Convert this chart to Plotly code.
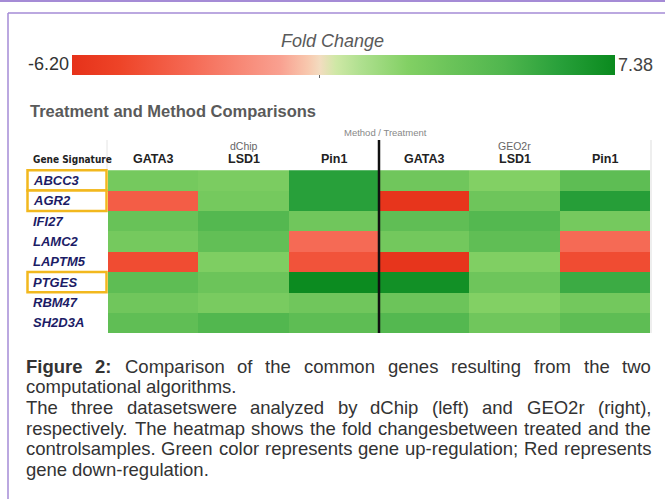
import plotly.graph_objects as go

# ---------------- data ----------------
genes = ["ABCC3", "AGR2", "IFI27", "LAMC2", "LAPTM5", "PTGES", "RBM47", "SH2D3A"]
highlighted = ["ABCC3", "AGR2", "PTGES"]
methods = ["dChip", "GEO2r"]
treatments = ["GATA3", "LSD1", "Pin1", "GATA3", "LSD1", "Pin1"]
fold_change = [
    [2.8, 2.5, 6.0, 3.0, 2.2, 3.9],     # ABCC3
    [-3.8, 2.8, 6.0, -6.0, 3.1, 6.1],   # AGR2
    [3.4, 4.4, 3.0, 3.8, 4.4, 2.8],     # IFI27
    [2.8, 3.7, -3.2, 2.9, 3.8, -3.2],   # LAMC2
    [-4.6, 2.4, -4.3, -6.0, 2.3, -4.6], # LAPTM5
    [3.9, 3.2, 7.3, 7.0, 3.1, 5.3],     # PTGES
    [3.0, 2.6, 3.0, 3.2, 2.2, 2.9],     # RBM47
    [3.8, 4.5, 3.9, 4.4, 3.0, 3.9],     # SH2D3A
]
fc_min, fc_max = -6.20, 7.38
scale_values = [-6.20, -5.0, -3.2, -1.0, -0.3, 0.0, 0.4, 1.0, 2.2, 3.2, 4.6, 6.0, 7.38]
scale_colors = ["#e6321a", "#ee4428", "#f56a55", "#f9a090", "#f8c8ae", "#f3dcc0",
                "#cfe8a6", "#b0e090", "#82d064", "#6cc45a", "#50b64e", "#28a03a", "#0a8a1e"]

caption_lines = [
    ([("Figure", True), ("2:", True), ("Comparison", False), ("of", False), ("the", False),
      ("common", False), ("genes", False), ("resulting", False), ("from", False), ("the", False),
      ("two", False)], True),
    ([(w, False) for w in "computational algorithms.".split()], False),
    ([(w, False) for w in "The three datasetswere analyzed by dChip (left) and GEO2r (right),".split()], True),
    ([(w, False) for w in "respectively. The heatmap shows the fold changesbetween treated and the".split()], True),
    ([(w, False) for w in "controlsamples. Green color represents gene up-regulation; Red represents".split()], True),
    ([(w, False) for w in "gene down-regulation.".split()], False),
]

# ---------------- helpers ----------------
W, H = 665, 499
def px(x):
    return x / W
def py(y):
    return 1 - y / H

REG = dict(zip("abcdefghijklmnopqrstuvwxyz",
               [556, 556, 500, 556, 556, 278, 556, 556, 222, 222, 500, 222, 833, 556, 556, 556,
                556, 333, 500, 278, 556, 500, 722, 500, 500, 500]))
REG.update(dict(zip("ABCDEFGHIJKLMNOPQRSTUVWXYZ",
                    [667, 667, 722, 722, 667, 611, 778, 722, 278, 500, 667, 556, 833, 722, 778,
                     667, 778, 722, 667, 611, 722, 667, 944, 667, 667, 611])))
REG.update({d: 556 for d in "0123456789"})
REG.update({".": 278, ",": 278, ":": 278, ";": 278, "(": 333, ")": 333, "-": 333, " ": 278})
BOLD = dict(zip("abcdefghijklmnopqrstuvwxyz",
                [556, 611, 556, 611, 556, 333, 611, 611, 278, 278, 556, 278, 889, 611, 611, 611,
                 611, 389, 556, 333, 611, 556, 778, 556, 556, 500]))
BOLD.update({"F": 611, ":": 333, " ": 278})
BOLD.update({d: 556 for d in "0123456789"})

def text_w(s, bold, size):
    t = BOLD if bold else REG
    return sum(t.get(c, 556) for c in s) / 1000.0 * size

# ---------------- figure ----------------
colorscale = [[(v - fc_min) / (fc_max - fc_min), c] for v, c in zip(scale_values, scale_colors)]
colorscale[-1][0] = 1.0

fig = go.Figure()
fig.add_trace(go.Heatmap(
    z=fold_change,
    x=list(range(len(treatments))),
    y=genes,
    zmin=fc_min, zmax=fc_max,
    colorscale=colorscale,
    hoverinfo="skip",
    colorbar=dict(
        orientation="h", x=px(343.5), xanchor="center", y=py(55), yanchor="top",
        lenmode="pixels", len=543, thicknessmode="pixels", thickness=20,
        outlinewidth=0, xpad=0, ypad=0,
        tickvals=[0], ticks="outside", ticklen=3, tickwidth=1, tickcolor="#666",
        showticklabels=False,
    ),
))

annotations = []
shapes = []

# colorbar texts
annotations.append(dict(text="<i>Fold Change</i>", x=px(332), y=py(41), xref="paper", yref="paper",
                        showarrow=False, xanchor="center", yanchor="middle",
                        font=dict(family="Liberation Sans", size=18, color="#5a5a5a")))
annotations.append(dict(text=f"{fc_min:.2f}", x=px(71), y=py(64), xref="paper", yref="paper",
                        showarrow=False, xanchor="right", yanchor="middle",
                        font=dict(family="Liberation Sans", size=18, color="#333333")))
annotations.append(dict(text=f"{fc_max:.2f}", x=px(616), y=py(65), xref="paper", yref="paper",
                        showarrow=False, xanchor="left", yanchor="middle",
                        font=dict(family="Liberation Sans", size=18, color="#444444")))

# title
annotations.append(dict(text="<b>Treatment and Method Comparisons</b>", x=px(28), y=py(111),
                        xref="paper", yref="paper", showarrow=False, xanchor="left", yanchor="middle",
                        font=dict(family="Liberation Sans", size=16.5, color="#5a5a5a")))

# header
annotations.append(dict(text="<b>Gene Signature</b>", x=px(31), y=py(159), xref="paper", yref="paper",
                        showarrow=False, xanchor="left", yanchor="middle",
                        font=dict(family="DejaVu Sans Condensed, Liberation Sans Narrow, Liberation Sans",
                                  size=10, color="#222222")))
annotations.append(dict(text="Method / Treatment", x=px(385), y=py(133), xref="paper", yref="paper",
                        showarrow=False, xanchor="center", yanchor="middle",
                        font=dict(family="Liberation Sans", size=9.5, color="#888888")))
for i, t in enumerate(treatments):
    annotations.append(dict(text=f"<b>{t}</b>", x=i, y=py(159), xref="x", yref="paper",
                            showarrow=False, xanchor="center", yanchor="middle",
                            font=dict(family="Liberation Sans", size=12.5, color="#222222")))
for k, m in enumerate(methods):
    annotations.append(dict(text=m, x=1 + 3 * k, y=py(146), xref="x", yref="paper",
                            showarrow=False, xanchor="center", yanchor="middle",
                            font=dict(family="Liberation Sans", size=10.5, color="#666666")))

# gene labels + highlight boxes
for i, g in enumerate(genes):
    if g in highlighted:
        shapes.append(dict(type="rect", xref="paper", yref="y", x0=px(27.5), x1=px(106.5),
                           y0=i - 0.5, y1=i + 0.5, line=dict(color="#f2b81e", width=2.5),
                           fillcolor="white", layer="below"))
    annotations.append(dict(text=f"<b><i>{g}</i></b>", x=px(31), y=g, xref="paper", yref="y",
                            showarrow=False, xanchor="left", yanchor="middle",
                            font=dict(family="Liberation Sans", size=13, color="#1c1c66")))

# lines
shapes.append(dict(type="line", xref="paper", yref="paper", x0=0, x1=1, y0=py(1), y1=py(1),
                   line=dict(color="#a58bd6", width=2)))
shapes.append(dict(type="line", xref="paper", yref="paper", x0=px(8), x1=1, y0=py(13), y1=py(13),
                   line=dict(color="#a58bd6", width=1.5)))
shapes.append(dict(type="line", xref="paper", yref="paper", x0=px(8), x1=px(8), y0=py(13), y1=0,
                   line=dict(color="#a58bd6", width=1.5)))
shapes.append(dict(type="line", xref="paper", yref="paper", x0=px(107), x1=px(107), y0=py(140), y1=py(169),
                   line=dict(color="#e4e4e4", width=1)))
shapes.append(dict(type="line", xref="paper", yref="paper", x0=px(651), x1=px(651), y0=py(140), y1=py(333),
                   line=dict(color="#e8e8e8", width=1.5)))
shapes.append(dict(type="line", xref="x", yref="paper", x0=2.5, x1=2.5, y0=py(140), y1=py(333),
                   line=dict(color="#111111", width=2.5)))

# caption (justified)
L, R = 25, 650
size = 18.5
ys = [366, 386.5, 407, 428, 448.5, 469]
for (words, justify), yy in zip(caption_lines, ys):
    widths = [text_w(w, b, size) for w, b in words]
    if justify and len(words) > 1:
        gap = (R - L - sum(widths)) / (len(words) - 1)
    else:
        gap = REG[" "] / 1000.0 * size
    x = L
    for (w, b), ww in zip(words, widths):
        annotations.append(dict(text=f"<b>{w}</b>" if b else w, x=px(x), y=py(yy),
                                xref="paper", yref="paper", showarrow=False,
                                xanchor="left", yanchor="middle", borderpad=0,
                                font=dict(family="Liberation Sans", size=size, color="#333333")))
        x += ww + gap

fig.update_layout(
    width=W, height=H, autosize=False,
    margin=dict(l=0, r=0, t=0, b=0),
    paper_bgcolor="white", plot_bgcolor="white",
    xaxis=dict(domain=[px(108), px(650)], range=[-0.5, len(treatments) - 0.5],
               visible=False, fixedrange=True),
    yaxis=dict(domain=[py(333), py(169)], autorange="reversed", visible=False, fixedrange=True),
    annotations=annotations, shapes=shapes, showlegend=False,
)

fig.write_html("out.html", config={"displayModeBar": False},
               post_script="document.body.style.margin='0';document.body.style.overflow='hidden';")
